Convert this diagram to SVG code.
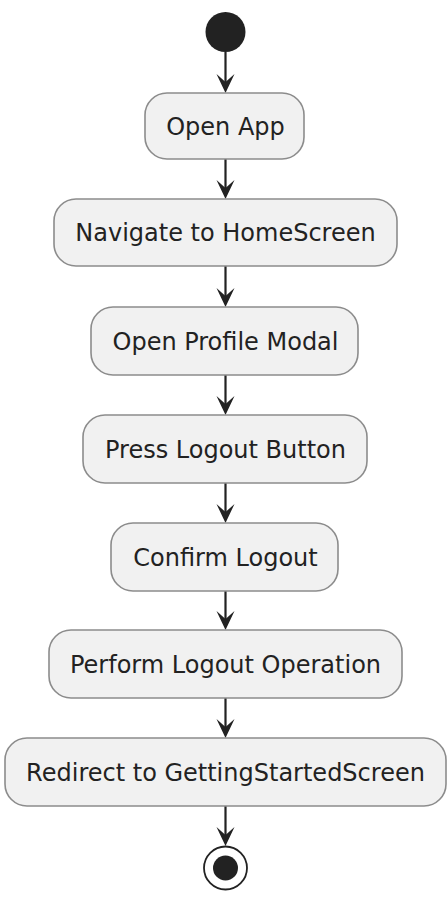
<svg xmlns="http://www.w3.org/2000/svg" width="447" height="900" viewBox="0 0 447 900">
<style>
.box{fill:#F1F1F1;stroke:#8c8c8c;stroke-width:1.6}
.lbl{font-family:"DejaVu Sans",sans-serif;font-size:24px;fill:#222;text-anchor:middle}
.edge{stroke:#222;stroke-width:2.2;fill:none}
.head{fill:#222;stroke:none}
</style>
<defs>
<path id="ah" d="M-9,-19 L0,0 L9,-19 L0,-11 Z"/>
</defs>
<rect width="447" height="900" fill="#ffffff"/>
<g id="connectors">
<line class="edge" x1="225.5" y1="52" x2="225.5" y2="90"/><use href="#ah" class="head" x="225.5" y="93"/>
<line class="edge" x1="225.5" y1="159" x2="225.5" y2="196"/><use href="#ah" class="head" x="225.5" y="199"/>
<line class="edge" x1="225.5" y1="266" x2="225.5" y2="304"/><use href="#ah" class="head" x="225.5" y="307"/>
<line class="edge" x1="225.5" y1="375" x2="225.5" y2="412"/><use href="#ah" class="head" x="225.5" y="415"/>
<line class="edge" x1="225.5" y1="483" x2="225.5" y2="520"/><use href="#ah" class="head" x="225.5" y="523"/>
<line class="edge" x1="225.5" y1="591" x2="225.5" y2="627"/><use href="#ah" class="head" x="225.5" y="630"/>
<line class="edge" x1="225.5" y1="698" x2="225.5" y2="735"/><use href="#ah" class="head" x="225.5" y="738"/>
<line class="edge" x1="225.5" y1="806" x2="225.5" y2="843"/><use href="#ah" class="head" x="225.5" y="846"/>
</g>
<g id="start"><circle cx="225.5" cy="32" r="20" fill="#222"/></g>
<g id="n1"><rect class="box" x="145" y="93" width="159" height="66" rx="22"/><text class="lbl" x="225.5" y="134.5">Open App</text></g>
<g id="n2"><rect class="box" x="54" y="199" width="343" height="67" rx="22"/><text class="lbl" x="225.5" y="241">Navigate to HomeScreen</text></g>
<g id="n3"><rect class="box" x="91" y="307" width="267" height="68" rx="22"/><text class="lbl" x="225.5" y="349.5">Open Profile Modal</text></g>
<g id="n4"><rect class="box" x="83" y="415" width="284" height="68" rx="22"/><text class="lbl" x="225.5" y="457.5">Press Logout Button</text></g>
<g id="n5"><rect class="box" x="111" y="523" width="227" height="68" rx="22"/><text class="lbl" x="225.5" y="565.5">Confirm Logout</text></g>
<g id="n6"><rect class="box" x="49" y="630" width="353" height="68" rx="22"/><text class="lbl" x="225.5" y="672.5">Perform Logout Operation</text></g>
<g id="n7"><rect class="box" x="5" y="738" width="441" height="68" rx="22"/><text class="lbl" x="225.5" y="780.5">Redirect to GettingStartedScreen</text></g>
<g id="end"><circle cx="225.5" cy="868" r="21.5" fill="#fff" stroke="#222" stroke-width="1.8"/><circle cx="225.5" cy="868" r="12.5" fill="#222"/></g>
</svg>
